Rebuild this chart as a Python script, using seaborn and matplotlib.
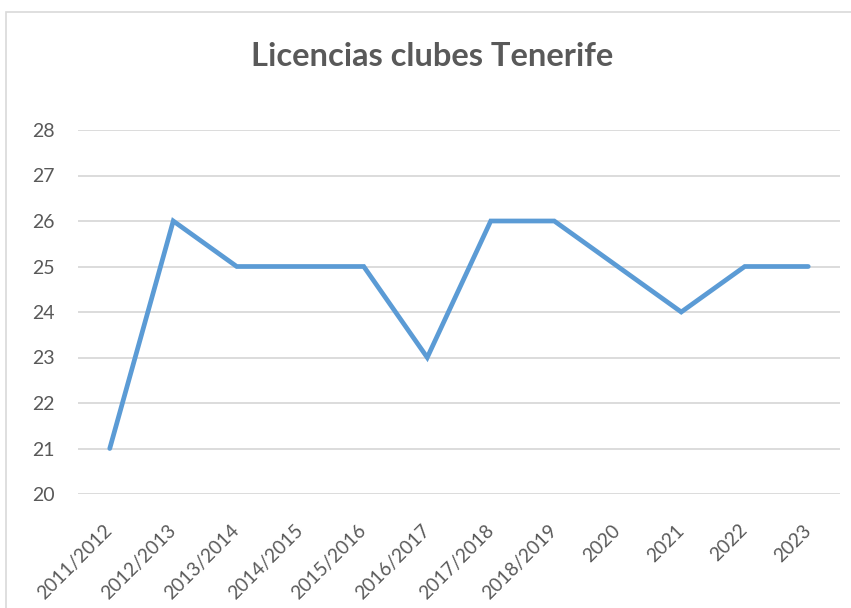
import pandas as pd
import matplotlib.pyplot as plt
import matplotlib.patches as mpatches
import seaborn as sns

# data
temporadas = ['2011/2012', '2012/2013', '2013/2014', '2014/2015', '2015/2016', '2016/2017',
              '2017/2018', '2018/2019', '2020', '2021', '2022', '2023']
licencias = [21, 26, 25, 25, 25, 23, 26, 26, 25, 24, 25, 25]
y_ticks = [20, 21, 22, 23, 24, 25, 26, 27, 28]

df = pd.DataFrame({'temporada': temporadas, 'licencias': licencias})

sns.set_style('white')
plt.rcParams['font.family'] = ['Lato', 'DejaVu Sans']

fig = plt.figure(figsize=(8.51, 6.08), dpi=100)
ax = fig.add_axes([78/851, 1-494/608, (840-78)/851, (494-130)/608])

sns.lineplot(data=df, x='temporada', y='licencias', ax=ax, color='#5B9BD5', linewidth=3.4,
             sort=False, solid_capstyle='round', solid_joinstyle='miter')

ax.set_ylim(20, 28)
ax.set_xlim(-0.5, len(temporadas) - 0.5)
ax.set_yticks(y_ticks)
ax.yaxis.grid(True, color='#D9D9D9', linewidth=1.3)
ax.set_axisbelow(True)
for s in ax.spines.values():
    s.set_visible(False)
ax.set_xlabel('')
ax.set_ylabel('')
ax.tick_params(axis='both', length=0, colors='#595959')
ax.tick_params(axis='y', labelsize=14, pad=17)
ax.tick_params(axis='x', labelsize=13.8, pad=24)
plt.setp(ax.get_xticklabels(), rotation=45, ha='right', va='center', rotation_mode='anchor')

fig.text(432/851, 1-56/608, 'Licencias clubes Tenerife', ha='center', va='center',
         fontsize=23.5, fontweight='bold', color='#595959')

# chart area border
fig.patches.append(mpatches.Rectangle((6/851, -0.1), 1.2, 1-12/608+0.1, transform=fig.transFigure,
                                      fill=False, edgecolor='#D9D9D9', linewidth=1.2))

plt.savefig('out.png', dpi=100)
